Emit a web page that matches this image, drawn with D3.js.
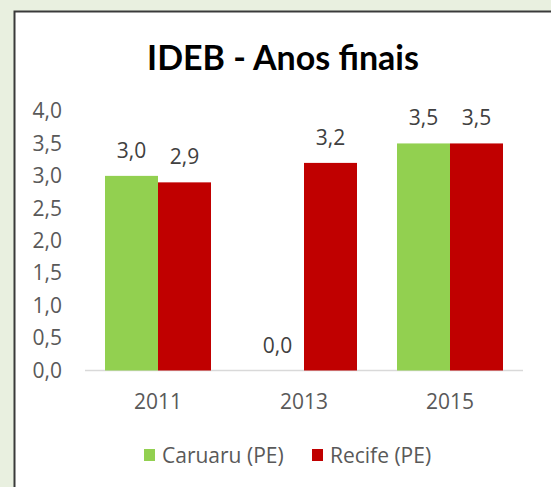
<!DOCTYPE html>
<html>
<head>
<meta charset="utf-8">
<script src="https://cdn.jsdelivr.net/npm/d3@7"></script>
<style>
  html, body { margin: 0; padding: 0; background: #e9f0e0; }
  svg { display: block; }
</style>
</head>
<body>
<div id="chart"></div>
<script>
// chart values
const years = ["2011", "2013", "2015"];
const seriesNames = ["Caruaru (PE)", "Recife (PE)"];
const caruaru = [3.0, 0.0, 3.5];
const recife = [2.9, 3.2, 3.5];
const yTicks = [0, 0.5, 1, 1.5, 2, 2.5, 3, 3.5, 4];

const W = 551, H = 487;
const fmt = v => d3.format(".1f")(v).replace(".", ",");

const svg = d3.select("#chart")
  .append("svg")
  .attr("width", W)
  .attr("height", H);

// white chart box with dark frame
svg.append("rect")
  .attr("x", 14.5)
  .attr("y", 11.5)
  .attr("width", 560)
  .attr("height", 500)
  .attr("fill", "#fff")
  .attr("stroke", "#3a3a3a")
  .attr("stroke-width", 2);

svg.append("text")
  .attr("x", 283)
  .attr("y", 70)
  .attr("text-anchor", "middle")
  .style("font-family", "Lato, sans-serif")
  .style("font-weight", "bold")
  .style("font-size", "34px")
  .attr("fill", "#000")
  .text("IDEB - Anos finais");

const x = d3.scaleBand()
  .domain(years)
  .range([85, 523])
  .paddingInner(0.274)
  .paddingOuter(0.137);

const xs = d3.scaleBand()
  .domain(seriesNames)
  .range([0, x.bandwidth()]);

const y = d3.scaleLinear()
  .domain([0, 4])
  .range([370.5, 111]);

const color = d3.scaleOrdinal()
  .domain(seriesNames)
  .range(["#92d050", "#c00000"]);

const labelFont = "'Open Sans', sans-serif";
const labelSize = "21px";

// y axis (labels only)
const yAxis = svg.append("g")
  .attr("transform", "translate(70,0)")
  .call(d3.axisLeft(y).tickValues(yTicks).tickFormat(fmt).tickSize(0).tickPadding(8));
yAxis.select(".domain").remove();
yAxis.selectAll("text")
  .style("font-family", labelFont)
  .style("font-size", labelSize)
  .attr("fill", "#595959");

// baseline
svg.append("line")
  .attr("x1", 85).attr("x2", 523)
  .attr("y1", y(0)).attr("y2", y(0))
  .attr("stroke", "#d9d9d9")
  .attr("stroke-width", 1.5);

// x axis labels
const xAxis = svg.append("g")
  .attr("transform", `translate(0,${y(0)})`)
  .call(d3.axisBottom(x).tickSize(0).tickPadding(24));
xAxis.select(".domain").remove();
xAxis.selectAll("text")
  .style("font-family", labelFont)
  .style("font-size", labelSize)
  .attr("fill", "#595959");

const rows = years.map((yr, i) => ({
  year: yr,
  vals: [
    { name: seriesNames[0], v: caruaru[i] },
    { name: seriesNames[1], v: recife[i] }
  ]
}));

const groups = svg.selectAll("g.year")
  .data(rows)
  .enter()
  .append("g")
  .attr("class", "year")
  .attr("transform", d => `translate(${x(d.year)},0)`);

groups.selectAll("rect")
  .data(d => d.vals)
  .enter()
  .append("rect")
  .attr("x", d => xs(d.name))
  .attr("width", xs.bandwidth())
  .attr("y", d => y(d.v))
  .attr("height", d => y(0) - y(d.v))
  .attr("fill", d => color(d.name));

groups.selectAll("text.val")
  .data(d => d.vals)
  .enter()
  .append("text")
  .attr("class", "val")
  .attr("x", d => xs(d.name) + xs.bandwidth() / 2)
  .attr("y", d => y(d.v) - 18)
  .attr("text-anchor", "middle")
  .style("font-family", labelFont)
  .style("font-size", labelSize)
  .attr("fill", "#404040")
  .text(d => fmt(d.v));

// legend
const legendItems = [
  { name: seriesNames[0], sx: 144, tx: 162 },
  { name: seriesNames[1], sx: 312, tx: 330 }
];
const legend = svg.append("g");
legend.selectAll("rect")
  .data(legendItems)
  .enter()
  .append("rect")
  .attr("x", d => d.sx)
  .attr("y", 449)
  .attr("width", 11)
  .attr("height", 12)
  .attr("fill", d => color(d.name));
legend.selectAll("text")
  .data(legendItems)
  .enter()
  .append("text")
  .attr("x", d => d.tx)
  .attr("y", 463)
  .style("font-family", labelFont)
  .style("font-size", labelSize)
  .attr("fill", "#595959")
  .text(d => d.name);
</script>
</body>
</html>
